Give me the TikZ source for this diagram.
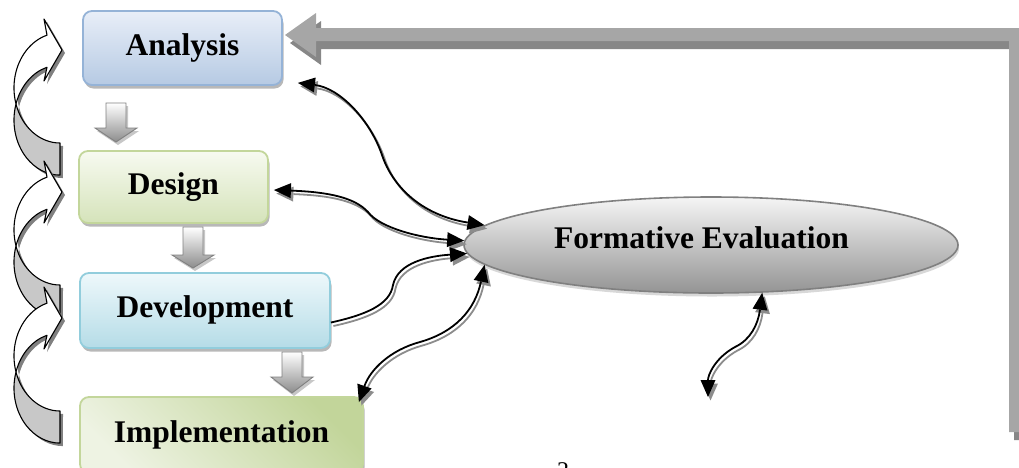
\documentclass[tikz,border=0pt]{standalone}
\usepackage{fontspec}
\setmainfont{Liberation Serif}
\usetikzlibrary{arrows.meta,shapes.geometric,shadows}
\definecolor{anaTop}{HTML}{E8EEF8}
\definecolor{anaBot}{HTML}{B6CAE3}
\definecolor{anaLine}{HTML}{95B3D7}
\definecolor{desTop}{HTML}{F7FAF0}
\definecolor{desBot}{HTML}{D5E3BA}
\definecolor{desLine}{HTML}{C3D69B}
\definecolor{devTop}{HTML}{EEF8FB}
\definecolor{devBot}{HTML}{B5DCE7}
\definecolor{devLine}{HTML}{92CDDC}
\definecolor{impDark}{HTML}{C2D59A}
\definecolor{impLight}{HTML}{EEF3E3}
\definecolor{bigArrow}{HTML}{A6A6A6}
\definecolor{bigShadow}{HTML}{878787}
\definecolor{connGray}{HTML}{8C8C8C}
\definecolor{sideGray}{HTML}{C8C8C8}

\newcommand\dnblk[4]{%
 \fill[dnshadow,shift={(2,3)}] ({#1-10},#2) -- ({#1+10},#2) -- ({#1+10},#3) -- ({#1+21},#3) -- (#1,#4) -- ({#1-21},#3) -- ({#1-10},#3) -- cycle;
 \draw[dnarrow] ({#1-10},#2) -- ({#1+10},#2) -- ({#1+10},#3) -- ({#1+21},#3) -- (#1,#4) -- ({#1-21},#3) -- ({#1-10},#3) -- cycle;}

\newcommand\sidearr[1]{%
\begin{scope}[shift={(0,#1)}]
 \begin{scope}[shift={(3,3)}]
  \fill[sideshadow] (16,54) arc[start angle=163,end angle=253.6,x radius=46,y radius=55] -- (44,-31) -- (62,0) -- (44,31) -- (47,17.25) arc[start angle=253.6,end angle=197,x radius=46,y radius=55] -- cycle;
  \fill[sideshadow] (16,54) arc[start angle=197,end angle=90,x radius=46,y radius=55] -- (60,93) arc[start angle=90,end angle=163,x radius=46,y radius=55] -- cycle;
 \end{scope}
 \draw[sideback] (16,54) arc[start angle=197,end angle=90,x radius=46,y radius=55] -- (60,93) arc[start angle=90,end angle=163,x radius=46,y radius=55] -- cycle;
 \draw[sidefront] (16,54) arc[start angle=163,end angle=253.6,x radius=46,y radius=55] -- (44,-31) -- (62,0) -- (44,31) -- (47,17.25) arc[start angle=253.6,end angle=197,x radius=46,y radius=55] -- cycle;
\end{scope}}

\newcommand\twinconn[2]{%
 \draw[connshadow,#1,transform canvas={shift={(2.5pt,-3.5pt)}}] #2;
 \draw[connline,#1] #2;}

\begin{document}
\begin{tikzpicture}[x=1pt,y=-1pt,
 phase/.style={rectangle, rounded corners=9pt, line width=1.8pt, inner sep=0pt,
   font=\fontsize{31.5}{36}\selectfont\bfseries, text height=22pt, text depth=8pt,
   drop shadow={shadow xshift=1.5pt,shadow yshift=-3.5pt,fill=black,opacity=0.28}},
 dnarrow/.style={draw=gray, line width=0.9pt, top color=white, bottom color=black!45},
 dnshadow/.style={fill=black!22},
 sideshadow/.style={fill=black!50},
 sideback/.style={fill=sideGray, draw=black, line width=1.1pt, line join=round},
 sidefront/.style={fill=white, draw=black, line width=1.1pt, line join=round},
 connline/.style={draw=black, line width=1.8pt},
 connshadow/.style={draw=connGray, line width=1.8pt},
 headtip/.tip={Triangle[length=17pt,width=15pt,line width=0pt]},
 tipboth/.style={headtip-headtip},
 tipend/.style={-headtip},
 labelfont/.style={font=\fontsize{31.5}{36}\selectfont\bfseries}
]
\useasboundingbox (0,0) rectangle (1019,467);

% big feedback arrow
\fill[bigShadow,shift={(5,8)}] (285,35) -- (316,13) -- (316,28) -- (1022,28) -- (1022,432) -- (1009,432) -- (1009,41) -- (316,41) -- (316,57) -- cycle;
\fill[bigArrow] (285,35) -- (316,13) -- (316,28) -- (1022,28) -- (1022,432) -- (1009,432) -- (1009,41) -- (316,41) -- (316,57) -- cycle;

% left curved arrows
\sidearr{50}
\sidearr{192}
\sidearr{318}

% phase boxes
\node[phase, draw=anaLine, top color=anaTop, bottom color=anaBot, minimum width=199pt, minimum height=74pt] (ana) at (182.5,48) {Analysis};
\node[phase, draw=desLine, top color=desTop, bottom color=desBot, minimum width=189pt, minimum height=72pt] (des) at (173.5,187) {Design};
\node[phase, draw=devLine, top color=devTop, bottom color=devBot, minimum width=250pt, minimum height=75pt] (dev) at (205,310.5) {Development};
\node[phase, draw=desLine, top color=impDark, bottom color=impLight, shading angle=-45, minimum width=283pt, minimum height=76pt] (imp) at (221.5,435) {Implementation};

% down block arrows
\dnblk{116}{103}{128}{142}
\dnblk{193}{227}{255}{268}
\dnblk{292}{352}{377}{393}

% formative evaluation
\node[ellipse, minimum width=494pt, minimum height=96pt, inner sep=0pt, draw=black!50, line width=1.6pt,
  top color=black!4, bottom color=black!42,
  drop shadow={shadow xshift=1pt,shadow yshift=-3.5pt,fill=black!30}] (fe) at (711,245) {};
\node[labelfont, anchor=base, inner sep=0pt] (fetext) at (701.5,248) {Formative Evaluation};

\coordinate (fefree) at (708,397);

% connectors
\twinconn{tipboth}{([xshift=15pt,yshift=3pt]ana.south east) .. controls (340,88) and (370,120) .. (382,155) .. controls (392,185) and (420,215) .. (fe.175)}
\twinconn{tipboth}{([xshift=5pt,yshift=-3pt]des.east) .. controls (330,192) and (355,198) .. (368,212) .. controls (380,228) and (420,238) .. (fe.179)}
\twinconn{tipend}{([yshift=-12pt]dev.east) .. controls (365,315) and (390,305) .. (393,285) .. controls (398,262) and (430,256) .. (fe.182)}
\twinconn{tipboth}{([xshift=-5pt,yshift=-6pt]imp.north east) .. controls (370,370) and (390,350) .. (420,342) .. controls (455,332) and (475,310) .. (fe.185)}
\twinconn{tipboth}{(fe.-43) .. controls (758,325) and (750,340) .. (735,347) .. controls (715,358) and (708,375) .. (fefree)}

% page number fragment (cut by the lower edge, as in the reference)
\node[font=\fontsize{24}{28}\selectfont, anchor=north, inner sep=0pt] (pg) at (563,462) {2};
\end{tikzpicture}
\end{document}
